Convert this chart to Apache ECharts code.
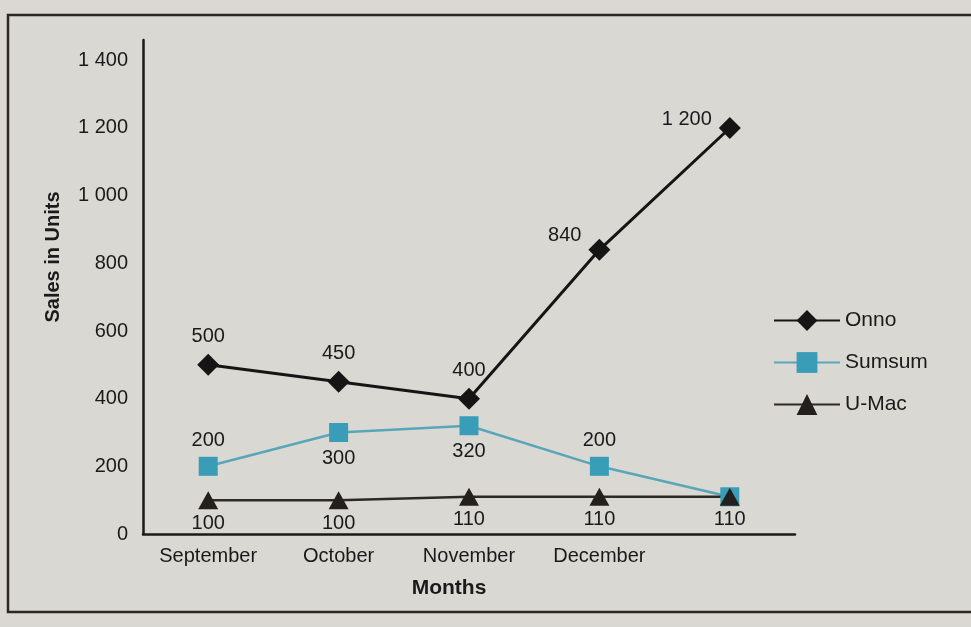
<!DOCTYPE html>
<html>
<head>
<meta charset="utf-8">
<script src="https://cdn.jsdelivr.net/npm/echarts@6/dist/echarts.min.js"></script>
<style>
  html, body { margin: 0; padding: 0; background: #d9d8d3; }
  #main { width: 971px; height: 627px; }
</style>
</head>
<body>
<div id="main"></div>
<script>
// months on the x axis (the fifth point has no label in the print)
const months = ['September', 'October', 'November', 'December', ''];
const onno = [500, 450, 400, 840, 1200];
const sumsum = [200, 300, 320, 200, 110];
const umac = [100, 100, 110, 110, 110];
const yTicks = [0, 200, 400, 600, 800, 1000, 1200, 1400];

const fmt = v => String(v).replace(/\B(?=(\d{3})+(?!\d))/g, ' ');
const labelFont = { fontFamily: 'Liberation Sans', fontSize: 20, color: '#1a1a1a' };
const axisFont = { fontFamily: 'Liberation Sans', fontSize: 20, color: '#1a1a1a' };

const chart = echarts.init(document.getElementById('main'));

const onnoData = onno.map((v, i) => {
  const d = { value: v };
  if (i === 3) d.label = { position: 'left', offset: [0, -14] };
  if (i === 4) d.label = { position: 'left', offset: [0, -8] };
  return d;
});
const sumPos = ['top', 'bottom', 'bottom', 'top', 'top'];
const sumsumData = sumsum.map((v, i) => ({
  value: v,
  label: i === 4 ? { show: false } : { position: sumPos[i] }
}));

chart.setOption({
  backgroundColor: '#d9d8d3',
  animation: false,
  textStyle: { fontFamily: 'Liberation Sans' },
  graphic: [{
    type: 'rect',
    shape: { x: 8, y: 15, width: 1000, height: 597 },
    style: { fill: 'none', stroke: '#2a2724', lineWidth: 2.5 }
  }],
  grid: { left: 143, right: 176, top: 40, bottom: 93 },
  legend: {
    orient: 'vertical',
    left: 768,
    top: 305,
    itemWidth: 66,
    itemHeight: 26,
    itemGap: 16,
    textStyle: { fontFamily: 'Liberation Sans', fontSize: 21, color: '#1a1a1a' },
    data: ['Onno', 'Sumsum', 'U-Mac'],
    itemGap: 21
  },
  xAxis: {
    type: 'category',
    data: months,
    boundaryGap: true,
    axisLine: { lineStyle: { color: '#1a1a1a', width: 2.5 } },
    axisTick: { show: false },
    axisLabel: { ...axisFont, margin: 12 },
    name: 'Months',
    nameLocation: 'middle',
    nameGap: 44,
    nameTextStyle: { fontFamily: 'Liberation Sans', fontSize: 21, fontWeight: 'bold', color: '#1a1a1a', padding: [0, 40, 0, 0] }
  },
  yAxis: {
    type: 'value',
    min: 0,
    max: 1460,
    interval: 200,
    splitLine: { show: false },
    axisLine: { show: true, lineStyle: { color: '#1a1a1a', width: 2.5 } },
    axisTick: { show: false },
    axisLabel: {
      ...axisFont, margin: 15, showMaxLabel: false,
      formatter: v => (yTicks.indexOf(v) >= 0 ? fmt(v) : '')
    },
    name: 'Sales in Units',
    nameLocation: 'middle',
    nameGap: 80,
    nameTextStyle: { fontFamily: 'Liberation Sans', fontSize: 20, fontWeight: 'bold', color: '#1a1a1a', padding: [0, 0, 0, 60] }
  },
  series: [
    {
      name: 'Onno',
      type: 'line',
      data: onnoData,
      symbol: 'diamond',
      symbolSize: 22,
      itemStyle: { color: '#151515' },
      lineStyle: { color: '#151515', width: 3 },
      label: { show: true, position: 'top', distance: 7, ...labelFont, formatter: p => fmt(p.value) }
    },
    {
      name: 'Sumsum',
      type: 'line',
      data: sumsumData,
      symbol: 'rect',
      symbolSize: 19,
      itemStyle: { color: '#3a9db8' },
      lineStyle: { color: '#5aa6b9', width: 2.5 },
      label: { show: true, distance: 6, ...labelFont, formatter: p => fmt(p.value) }
    },
    {
      name: 'U-Mac',
      type: 'line',
      data: umac,
      symbol: 'triangle',
      symbolSize: [20, 18],
      itemStyle: { color: '#231f1c' },
      lineStyle: { color: '#2e2925', width: 2.5 },
      label: { show: true, position: 'bottom', distance: 4, ...labelFont, formatter: p => fmt(p.value) }
    }
  ]
});
</script>
</body>
</html>
